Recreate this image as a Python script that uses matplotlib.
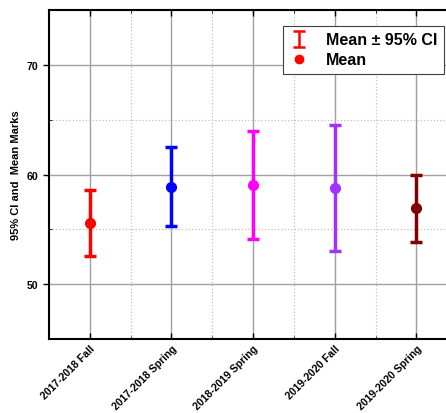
import matplotlib.pyplot as plt
import numpy as np
from matplotlib.ticker import MultipleLocator

plt.rcParams['font.family'] = ['Liberation Sans', 'DejaVu Sans']

terms = ['2017-2018 Fall', '2017-2018 Spring', '2018-2019 Spring',
         '2019-2020 Fall', '2019-2020 Spring']
means = [55.6, 58.9, 59.05, 58.8, 56.95]
ci_low = [52.55, 55.3, 54.15, 53.05, 53.85]
ci_high = [58.6, 62.5, 63.95, 64.5, 59.95]
colors = ['#ff0000', '#0000ff', '#ff00ff', '#a033ff', '#800000']

fig = plt.figure(figsize=(4.46, 4.14), dpi=100)
ax = fig.add_axes([0.11, 0.179, 0.915, 0.794])

x = np.arange(1, len(terms) + 1)
for i in range(len(terms)):
    lo = means[i] - ci_low[i]
    hi = ci_high[i] - means[i]
    ax.errorbar(x[i], means[i], yerr=[[lo], [hi]], fmt='o', color=colors[i],
                ms=7, elinewidth=2.5, capsize=4, capthick=2.5, zorder=3)

# legend handles
h_ci = ax.errorbar([np.nan], [np.nan], yerr=[1], fmt='none', ecolor='red',
                   elinewidth=1.8, capsize=4, capthick=1.8)
h_mean, = ax.plot([np.nan], [np.nan], 'o', color='red', ms=6)

ax.set_xlim(0.5, 5.5)
ax.set_ylim(45, 75)
ax.set_xticks(x)
ax.set_xticklabels(terms, rotation=45, ha='right', rotation_mode='anchor',
                   fontsize=7.6, fontweight='bold')
ax.xaxis.set_minor_locator(MultipleLocator(0.5))
ax.yaxis.set_major_locator(MultipleLocator(10))
ax.yaxis.set_minor_locator(MultipleLocator(5))
for lab in ax.get_yticklabels():
    lab.set_fontsize(7.6)
    lab.set_fontweight('bold')

ax.grid(which='major', color='#a0a0a0', lw=1, ls='-', zorder=0)
ax.grid(which='minor', color='#c0c0c0', lw=0.9, ls=':', zorder=0)
ax.set_axisbelow(True)

ax.tick_params(axis='y', which='major', direction='out', length=4, width=1)
ax.tick_params(axis='y', which='minor', direction='in', length=2)
ax.tick_params(axis='x', which='major', direction='in', length=4, width=1,
               top=True, pad=3)
ax.tick_params(axis='x', which='minor', direction='in', length=2, top=True)
for s in ax.spines.values():
    s.set_linewidth(1.5)

ax.set_ylabel('95% CI and  Mean Marks', fontsize=8, fontweight='bold')

leg = ax.legend([h_ci, h_mean], ['Mean \u00b1 95% CI', 'Mean'],
                loc='upper right', bbox_to_anchor=(0.968, 0.952), fancybox=False,
                edgecolor='#404040', framealpha=1,
                prop={'weight': 'bold', 'size': 11.5}, handlelength=1.2,
                handletextpad=1.1, borderpad=0.4, labelspacing=0.3,
                borderaxespad=0)
leg.get_frame().set_linewidth(0.8)

fig.savefig('out.png', dpi=100)
